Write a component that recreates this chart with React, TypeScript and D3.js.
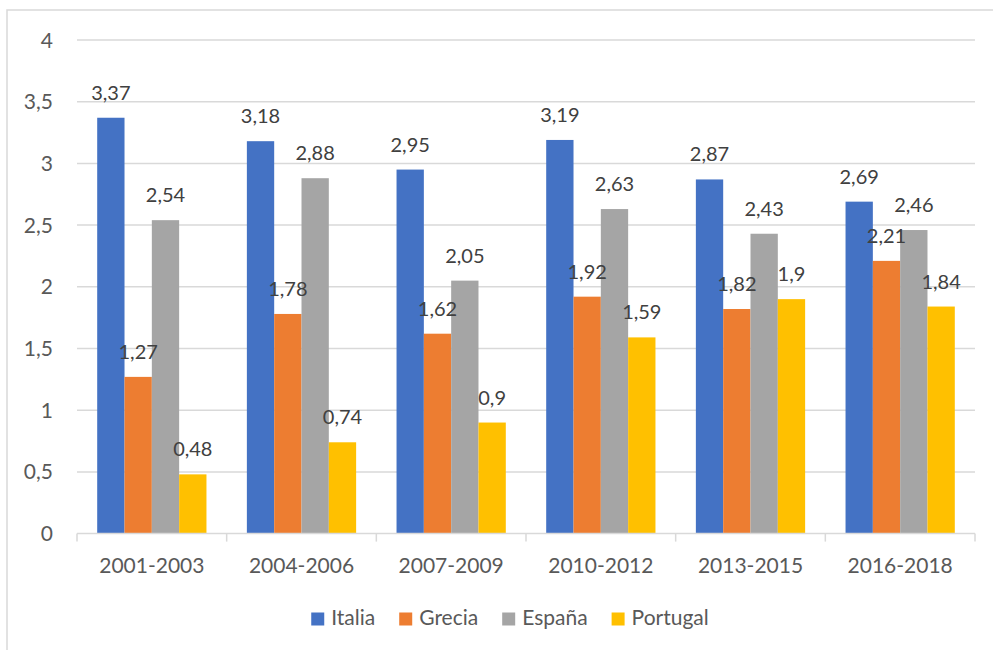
import * as d3 from "d3";

const periods = ["2001-2003", "2004-2006", "2007-2009", "2010-2012", "2013-2015", "2016-2018"];
const countries = ["Italia", "Grecia", "España", "Portugal"];
const italia = [3.37, 3.18, 2.95, 3.19, 2.87, 2.69];
const grecia = [1.27, 1.78, 1.62, 1.92, 1.82, 2.21];
const espana = [2.54, 2.88, 2.05, 2.63, 2.43, 2.46];
const portugal = [0.48, 0.74, 0.9, 1.59, 1.9, 1.84];
const yTicks = [0, 0.5, 1, 1.5, 2, 2.5, 3, 3.5, 4];

const series = [italia, grecia, espana, portugal];
const colors = ["#4472C4", "#ED7D31", "#A5A5A5", "#FFC000"];

const W = 993;
const H = 650;
const FONT = "Lato, 'Open Sans', sans-serif";
const fmt = (v: number) => String(v).replace(".", ",");

const measure = (() => {
  const ctx = document.createElement("canvas").getContext("2d")!;
  return (t: string, size: number) => {
    ctx.font = `${size}px Lato`;
    return ctx.measureText(t).width;
  };
})();

export default function App() {
  const left = 77;
  const right = 975;
  const top = 40;
  const bottom = 533.6;

  const x0 = d3.scaleBand<string>().domain(periods).range([left, right]).padding(0);
  const gap = 40.4;
  const x1 = d3
    .scaleBand<string>()
    .domain(countries)
    .range([gap / 2, x0.bandwidth() - gap / 2])
    .padding(0);
  const y = d3.scaleLinear().domain([0, 4]).range([bottom, top]);

  // legend layout
  const legSize = 21;
  const sq = 13;
  const itemGap = 24;
  const widths = countries.map((c) => sq + 7 + measure(c, legSize));
  const total = d3.sum(widths) + itemGap * (countries.length - 1);
  let cursor = 510 - total / 2;
  const legendX = widths.map((w) => {
    const p = cursor;
    cursor += w + itemGap;
    return p;
  });

  return (
    <svg
      width={W}
      height={H}
      style={{ position: "absolute", left: 0, top: 0, background: "#fff" }}
      fontFamily={FONT}
    >
      <rect x={0} y={0} width={W} height={H} fill="#fff" />
      {/* chart border (top and left visible) */}
      <path d={`M7,${H + 2}V10H${W + 2}`} fill="none" stroke="#D9D9D9" strokeWidth={1.5} />

      {/* gridlines */}
      {yTicks.map((t) =>
        t === 0 ? null : (
          <line key={t} x1={left} x2={right} y1={y(t)} y2={y(t)} stroke="#D9D9D9" strokeWidth={1.5} />
        )
      )}

      {/* y tick labels */}
      {yTicks.map((t) => (
        <text key={t} x={53} y={y(t) + 7.5} textAnchor="end" fontSize={21} fill="#595959">
          {fmt(t)}
        </text>
      ))}

      {/* bars */}
      {periods.map((p, i) => (
        <g key={p} transform={`translate(${x0(p)},0)`}>
          {countries.map((c, j) => (
            <rect
              key={c}
              x={x1(c)}
              y={y(series[j][i])}
              width={x1.bandwidth()}
              height={y(0) - y(series[j][i])}
              fill={colors[j]}
            />
          ))}
        </g>
      ))}

      {/* data labels */}
      {periods.map((p, i) =>
        countries.map((c, j) => (
          <text
            key={p + c}
            x={(x0(p) as number) + (x1(c) as number) + x1.bandwidth() / 2}
            y={y(series[j][i]) - 18}
            textAnchor="middle"
            fontSize={20}
            fill="#404040"
          >
            {fmt(series[j][i])}
          </text>
        ))
      )}

      {/* x axis */}
      <line x1={left} x2={right} y1={bottom} y2={bottom} stroke="#D9D9D9" strokeWidth={1.5} />
      {[...periods.map((p) => x0(p) as number), right].map((xv, i) => (
        <line key={i} x1={xv} x2={xv} y1={bottom} y2={bottom + 8} stroke="#D9D9D9" strokeWidth={1.5} />
      ))}
      {periods.map((p) => (
        <text
          key={p}
          x={(x0(p) as number) + x0.bandwidth() / 2}
          y={572.5}
          textAnchor="middle"
          fontSize={21}
          fill="#595959"
        >
          {p}
        </text>
      ))}

      {/* legend */}
      {countries.map((c, j) => (
        <g key={c} transform={`translate(${legendX[j]},0)`}>
          <rect x={0} y={612.5} width={sq} height={sq} fill={colors[j]} />
          <text x={sq + 7} y={625} fontSize={legSize} fill="#595959">
            {c}
          </text>
        </g>
      ))}
    </svg>
  );
}
